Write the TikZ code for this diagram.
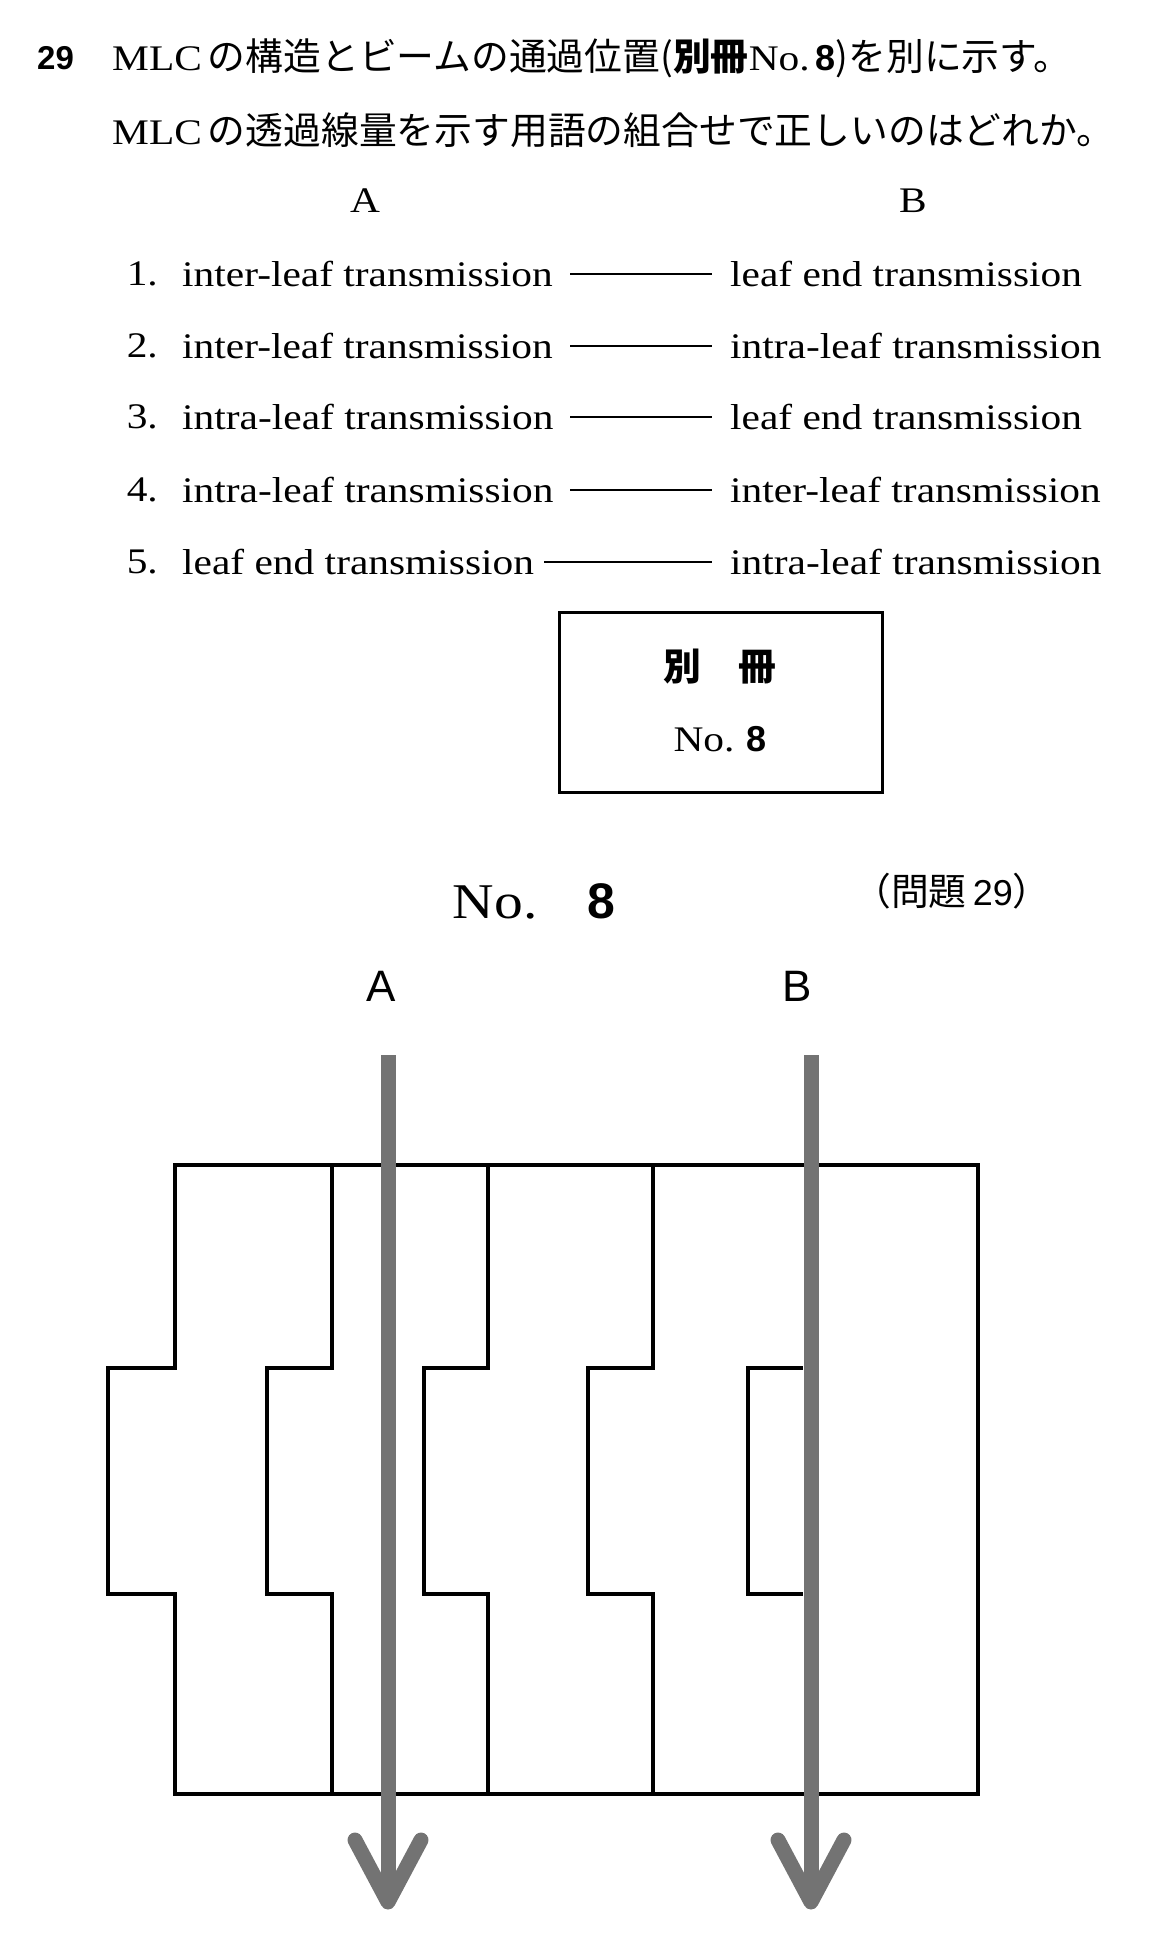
\documentclass[tikz,border=0pt]{standalone}
\usepackage{fontspec}
\setmainfont{Liberation Serif}[FakeStretch=1.15]
\setsansfont{Liberation Sans}
\newfontfamily\jp{Noto Sans CJK JP}[Scale=1.05]
\usetikzlibrary{positioning,calc}
\tikzset{
    body/.style={font=\fontsize{36}{36}\selectfont, inner sep=0pt},
    lead/.style={body, anchor=west},
    leaf/.style={line width=4pt, line join=miter},
    beam/.style={line width=15pt, color=black!55, line cap=round},
}
\newcommand\RowLine[5]{%
    \node[body, anchor=east] (n#1) at (158,#2) {#1.};
    \node[lead] (a#1) at (182,#2) {#3};
    \node[lead] (b#1) at (730,#2) {#5};
    \draw[line width=1.6pt] (#4,#2) -- (712,#2);
}
\begin{document}
\begin{tikzpicture}[x=1pt,y=-1pt]
    \useasboundingbox (0,0) rectangle (1156,1944);
    % question
    \node[anchor=west, inner sep=0pt] (qnum) at (37,58) {\fontsize{33}{33}\selectfont\sffamily\bfseries 29};
    \node[lead] (q1) at (112,58) {MLC\,{\jp の構造とビームの通過位置(\textbf{別冊}}No.\,{\sffamily\bfseries 8}{\jp )を別に示す。}};
    \node[lead] (q2) at (112,130) {MLC\,{\jp の透過線量を示す用語の組合せで正しいのはどれか。}};
    \node[body] (hA) at (365,201) {A};
    \node[body] (hB) at (913,201) {B};
    \RowLine{1}{274}{inter-leaf transmission}{570}{leaf end transmission}
    \RowLine{2}{346}{inter-leaf transmission}{570}{intra-leaf transmission}
    \RowLine{3}{417}{intra-leaf transmission}{570}{leaf end transmission}
    \RowLine{4}{490}{intra-leaf transmission}{570}{inter-leaf transmission}
    \RowLine{5}{562}{leaf end transmission}{544}{intra-leaf transmission}
    % booklet box
    \draw[line width=3pt] (559,612) rectangle (882,792);
    \node[body] (bk1) at (720,667) {{\jp\bfseries 別\hspace{1em}冊}};
    \node[body] (bk2) at (720,739) {No.\,\,{\sffamily\bfseries 8}};
    % figure title
    \node[body, font=\fontsize{50}{50}\selectfont] (title) at (534,901) {No.\quad{\sffamily\bfseries 8}};
    \node[body] (ref) at (952,891) {{\jp （問題}\,{\sffamily 29}{\jp ）}};
    \node[font=\fontsize{44}{44}\selectfont\sffamily, inner sep=0pt] (lA) at (381,986) {A};
    \node[font=\fontsize{44}{44}\selectfont\sffamily, inner sep=0pt] (lB) at (797,986) {B};
    % leaves
    \draw[leaf] (175,1165) -- (332,1165) -- (332,1368) -- (267,1368) -- (267,1594) -- (332,1594)
        -- (332,1794) -- (175,1794) -- (175,1594) -- (108,1594) -- (108,1368) -- (175,1368) -- cycle;
    \draw[leaf] (332,1165) -- (488,1165) -- (488,1368) -- (424,1368) -- (424,1594) -- (488,1594)
        -- (488,1794) -- (332,1794);
    \draw[leaf] (488,1165) -- (653,1165) -- (653,1368) -- (588,1368) -- (588,1594) -- (653,1594)
        -- (653,1794) -- (488,1794);
    \draw[leaf] (653,1165) -- (978,1165) -- (978,1794) -- (653,1794);
    \draw[leaf] (803,1368) -- (748,1368) -- (748,1594) -- (803,1594);
    % beams
    \foreach \b/\x in {A/388,B/811} {
        \coordinate (\b top) at (\x,1055);
        \coordinate (\b tip) at (\x,1902);
        \draw[beam, line cap=butt] (\b top) -- (\b tip);
        \draw[beam, line join=round] ($(\b tip)+(-33,-62)$) -- (\b tip) -- ($(\b tip)+(33,-62)$);
    }
\end{tikzpicture}
\end{document}
